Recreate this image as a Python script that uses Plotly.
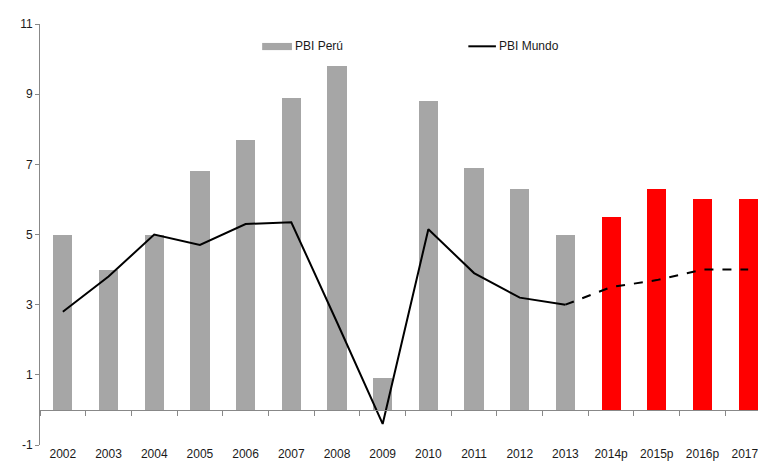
import plotly.graph_objects as go

years = ["2002", "2003", "2004", "2005", "2006", "2007", "2008", "2009",
         "2010", "2011", "2012", "2013", "2014p", "2015p", "2016p", "2017p"]
pbi_peru = [5.0, 4.0, 5.0, 6.8, 7.7, 8.9, 9.8, 0.9,
            8.8, 6.9, 6.3, 5.0, 5.5, 6.3, 6.0, 6.0]
pbi_mundo = [2.8, 3.8, 5.0, 4.7, 5.3, 5.35, 2.5, -0.4,
             5.15, 3.9, 3.2, 3.0, 3.5, 3.7, 4.0, 4.0]
n_real = 12  # 2002-2013 observed, rest projected
y_ticks = [-1, 1, 3, 5, 7, 9, 11]

bar_colors = ["#a6a6a6"] * n_real + ["#ff0000"] * (len(years) - n_real)

fig = go.Figure()
fig.add_trace(go.Bar(x=years, y=pbi_peru, marker_color=bar_colors,
                     marker_line_width=0, width=0.42, name="PBI Perú"))
# observed world growth
fig.add_trace(go.Scatter(x=years[:n_real], y=pbi_mundo[:n_real], mode="lines",
                         line=dict(color="black", width=2), name="PBI Mundo",
                         xaxis="x2"))
# projection
fig.add_trace(go.Scatter(x=years[n_real - 1:], y=pbi_mundo[n_real - 1:], mode="lines",
                         line=dict(color="black", width=2, dash="dash"),
                         showlegend=False, xaxis="x2"))

font = dict(family="Liberation Sans, Arial, sans-serif", size=12, color="#1a1a1a")

# page body adds an 8px offset, so the figure is sized to fit inside the window
fig.update_layout(
    width=758, height=463,
    margin=dict(l=32, r=0, t=16, b=26),
    paper_bgcolor="white", plot_bgcolor="white",
    font=font, showlegend=False, bargap=0,
    xaxis=dict(range=[-0.5, 15.39], categoryorder="array", categoryarray=years,
               showline=False, ticks="", showgrid=False, zeroline=False,
               tickfont=font, automargin=False),
    xaxis2=dict(matches="x", overlaying="x", anchor="free", position=1 / 12,
                categoryorder="array", categoryarray=years,
                showline=True, linecolor="#888", linewidth=1,
                ticks="outside", tickson="boundaries", ticklen=5, tickcolor="#888",
                showticklabels=False, showgrid=False, zeroline=False,
                automargin=False),
    yaxis=dict(range=[-1, 11], tickvals=y_ticks, ticktext=[str(v) for v in y_ticks],
               showline=True, linecolor="#888",
               linewidth=1, ticks="outside", ticklen=4, tickcolor="#888",
               showgrid=False, zeroline=False, tickfont=font, automargin=False),
)

# legend drawn by hand to match the wide swatch
fig.add_shape(type="rect", xref="paper", yref="paper", x0=0.306, x1=0.347,
              y0=0.938, y1=0.955, fillcolor="#a6a6a6", line_width=0)
fig.add_annotation(xref="paper", yref="paper", x=0.349, y=0.947, text="PBI Perú",
                   showarrow=False, xanchor="left", yanchor="middle", font=font)
fig.add_shape(type="line", xref="paper", yref="paper", x0=0.590, x1=0.628,
              y0=0.947, y1=0.947, line=dict(color="black", width=2))
fig.add_annotation(xref="paper", yref="paper", x=0.630, y=0.947, text="PBI Mundo",
                   showarrow=False, xanchor="left", yanchor="middle", font=font)

fig.write_html("out.html")
